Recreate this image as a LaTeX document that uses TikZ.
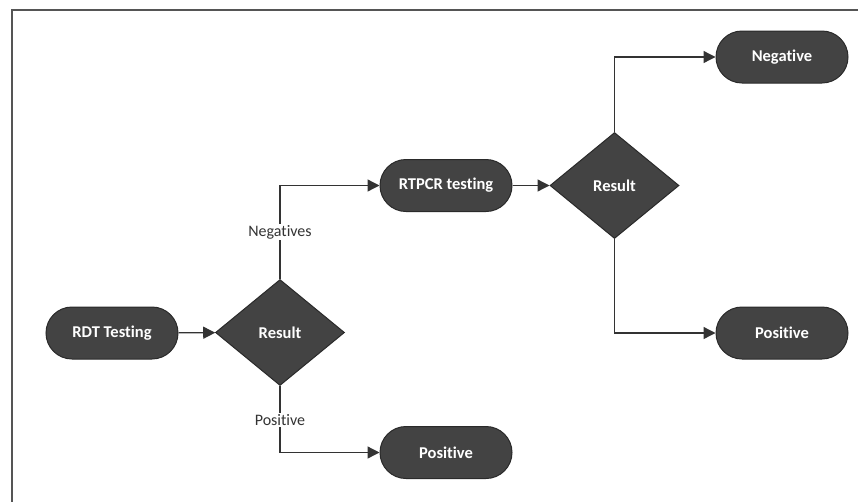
\documentclass[tikz,border=0pt]{standalone}
\usepackage{fontspec}
\setmainfont{Carlito}[Ligatures=NoCommon]
\usetikzlibrary{shapes.geometric,arrows.meta}
\definecolor{boxfill}{HTML}{434343}
\definecolor{boxline}{HTML}{2A2A2A}
\definecolor{conn}{HTML}{333333}
\definecolor{framec}{HTML}{555555}
\tikzset{
  term/.style={draw=boxline, line width=1pt, fill=boxfill, rounded corners=26pt,
    minimum width=132pt, minimum height=52pt, inner sep=0pt,
    text=white, font=\fontsize{16.5}{18}\selectfont\bfseries},
  decide/.style={diamond, draw=boxline, line width=1pt, fill=boxfill,
    minimum width=129pt, minimum height=106pt, inner sep=0pt, aspect=1.22,
    text=white, font=\fontsize{16.5}{18}\selectfont\bfseries},
  conn/.style={draw=conn, line width=1.3pt, -{Triangle[length=12pt,width=12pt]}},
  lbl/.style={fill=white, inner sep=1.5pt, text=black!80, font=\fontsize{16}{18}\selectfont},
}
\begin{document}
\begin{tikzpicture}[x=1pt,y=-1pt]
\useasboundingbox (0,0) rectangle (858,501);
\draw[framec, line width=2pt] (12,505) -- (12,10) -- (862,10);
\node[term] (rdt) at (112,333) {RDT Testing};
\node[decide] (r1) at (280,332.5) {Result};
\node[term] (rtpcr) at (446,185.5) {RTPCR testing};
\node[decide] (r2) at (614.5,185.5) {Result};
\node[term] (neg) at (782,57) {Negative};
\node[term] (pos2) at (782,333) {Positive};
\node[term] (pos1) at (446,452.5) {Positive};
\draw[conn] (rdt) -- (r1);
\draw[conn] (r1.north) |- (rtpcr.west);
\draw[conn] (rtpcr) -- (r2);
\draw[conn] (r2.north) |- (neg.west);
\draw[conn] (r2.south) |- (pos2.west);
\draw[conn] (r1.south) |- (pos1.west);
\node[lbl] (lneg) at (280,232) {Negatives};
\node[lbl] (lpos) at (280,420) {Positive};
\end{tikzpicture}
\end{document}
